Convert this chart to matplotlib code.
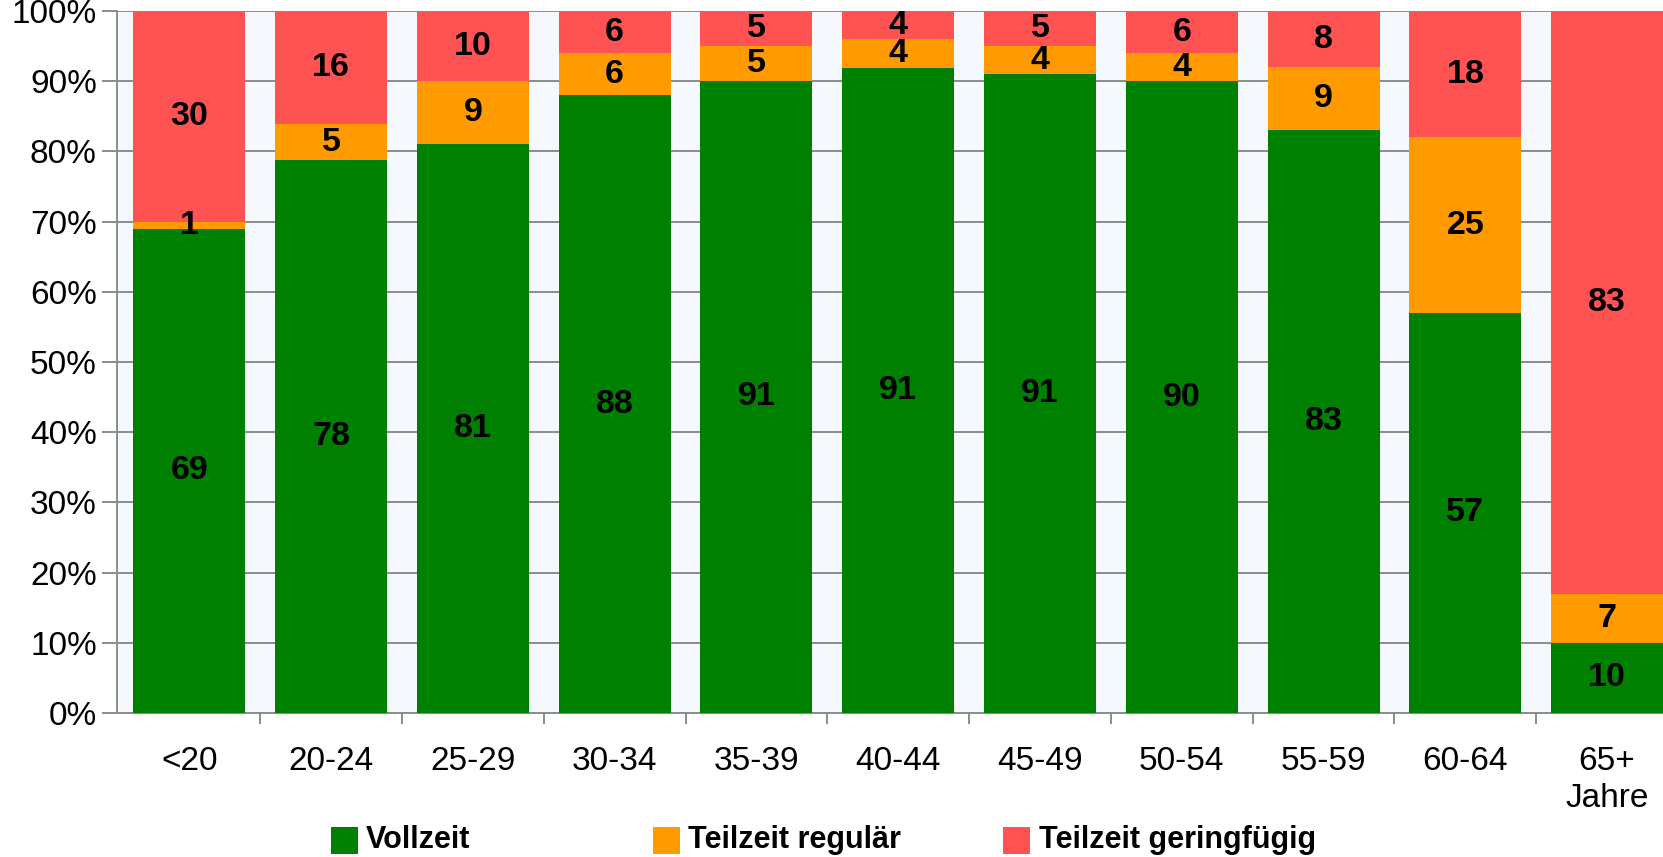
import matplotlib
matplotlib.use("Agg")
import matplotlib.pyplot as plt
from matplotlib.patches import Rectangle
import numpy as np

plt.rcParams['font.family'] = ['Liberation Sans', 'DejaVu Sans']

categories = ["<20", "20-24", "25-29", "30-34", "35-39", "40-44", "45-49",
              "50-54", "55-59", "60-64", "65+\nJahre"]
vollzeit = [69, 78, 81, 88, 91, 91, 91, 90, 83, 57, 10]
teilzeit_regulaer = [1, 5, 9, 6, 5, 4, 4, 4, 9, 25, 7]
teilzeit_geringfuegig = [30, 16, 10, 6, 5, 4, 5, 6, 8, 18, 83]
series_names = ["Vollzeit", "Teilzeit regulär", "Teilzeit geringfügig"]
colors = ["#008000", "#ff9a00", "#ff5252"]

W, H = 1663, 857
fig = plt.figure(figsize=(W / 100, H / 100), dpi=100)
ax = fig.add_axes([117 / W, 1 - 713 / H, (1678 - 117) / W, (713 - 11) / H])
ax.set_facecolor("#f5f9fd")

data = np.array([vollzeit, teilzeit_regulaer, teilzeit_geringfuegig], dtype=float)
totals = data.sum(axis=0)
shares = data / totals * 100
x = np.arange(len(categories))
bottom = np.zeros(len(categories))
for k in range(3):
    ax.bar(x, shares[k], 0.79, bottom=bottom, color=colors[k], zorder=3,
           linewidth=0)
    for i in range(len(categories)):
        ax.text(x[i], bottom[i] + shares[k][i] / 2, str(int(data[k][i])),
                ha="center", va="center", fontsize=24.5, fontweight="bold",
                color="black", zorder=4)
    bottom += shares[k]

ax.set_xlim(-0.51, len(categories) - 0.5)
ax.set_ylim(0, 100)
ax.set_yticks(np.arange(0, 101, 10))
ax.set_yticklabels([f"{v}%" for v in range(0, 101, 10)], fontsize=24)
ax.yaxis.grid(True, color="#8c8c8c", linewidth=1.4, zorder=1)
ax.tick_params(axis="y", length=11, color="#8c8c8c", width=1.4, pad=3.5)

ax.set_xticks(x)
ax.set_xticklabels(categories, fontsize=24, linespacing=1.25)
ax.set_xticks(np.arange(len(categories)) + 0.5, minor=True)
ax.tick_params(axis="x", which="major", length=0, pad=24)
ax.tick_params(axis="x", which="minor", length=8, color="#8c8c8c", width=1.4,
               direction="out")

for s in ["top", "right"]:
    ax.spines[s].set_visible(False)
for s in ["left", "bottom"]:
    ax.spines[s].set_color("#8c8c8c")
    ax.spines[s].set_linewidth(1.4)

# legend
sq_left = [331, 653, 1003]
txt_left = [366, 688, 1039]
yc = 840
sq = 27
for k in range(3):
    fig.patches.append(Rectangle((sq_left[k] / W, (H - yc - sq / 2) / H),
                                 sq / W, sq / H, transform=fig.transFigure,
                                 facecolor=colors[k], edgecolor="none"))
    fig.text(txt_left[k] / W, 1 - yc / H, series_names[k], ha="left",
             va="center", fontsize=22, fontweight="bold")

fig.savefig("out.png", dpi=100, facecolor="white")
